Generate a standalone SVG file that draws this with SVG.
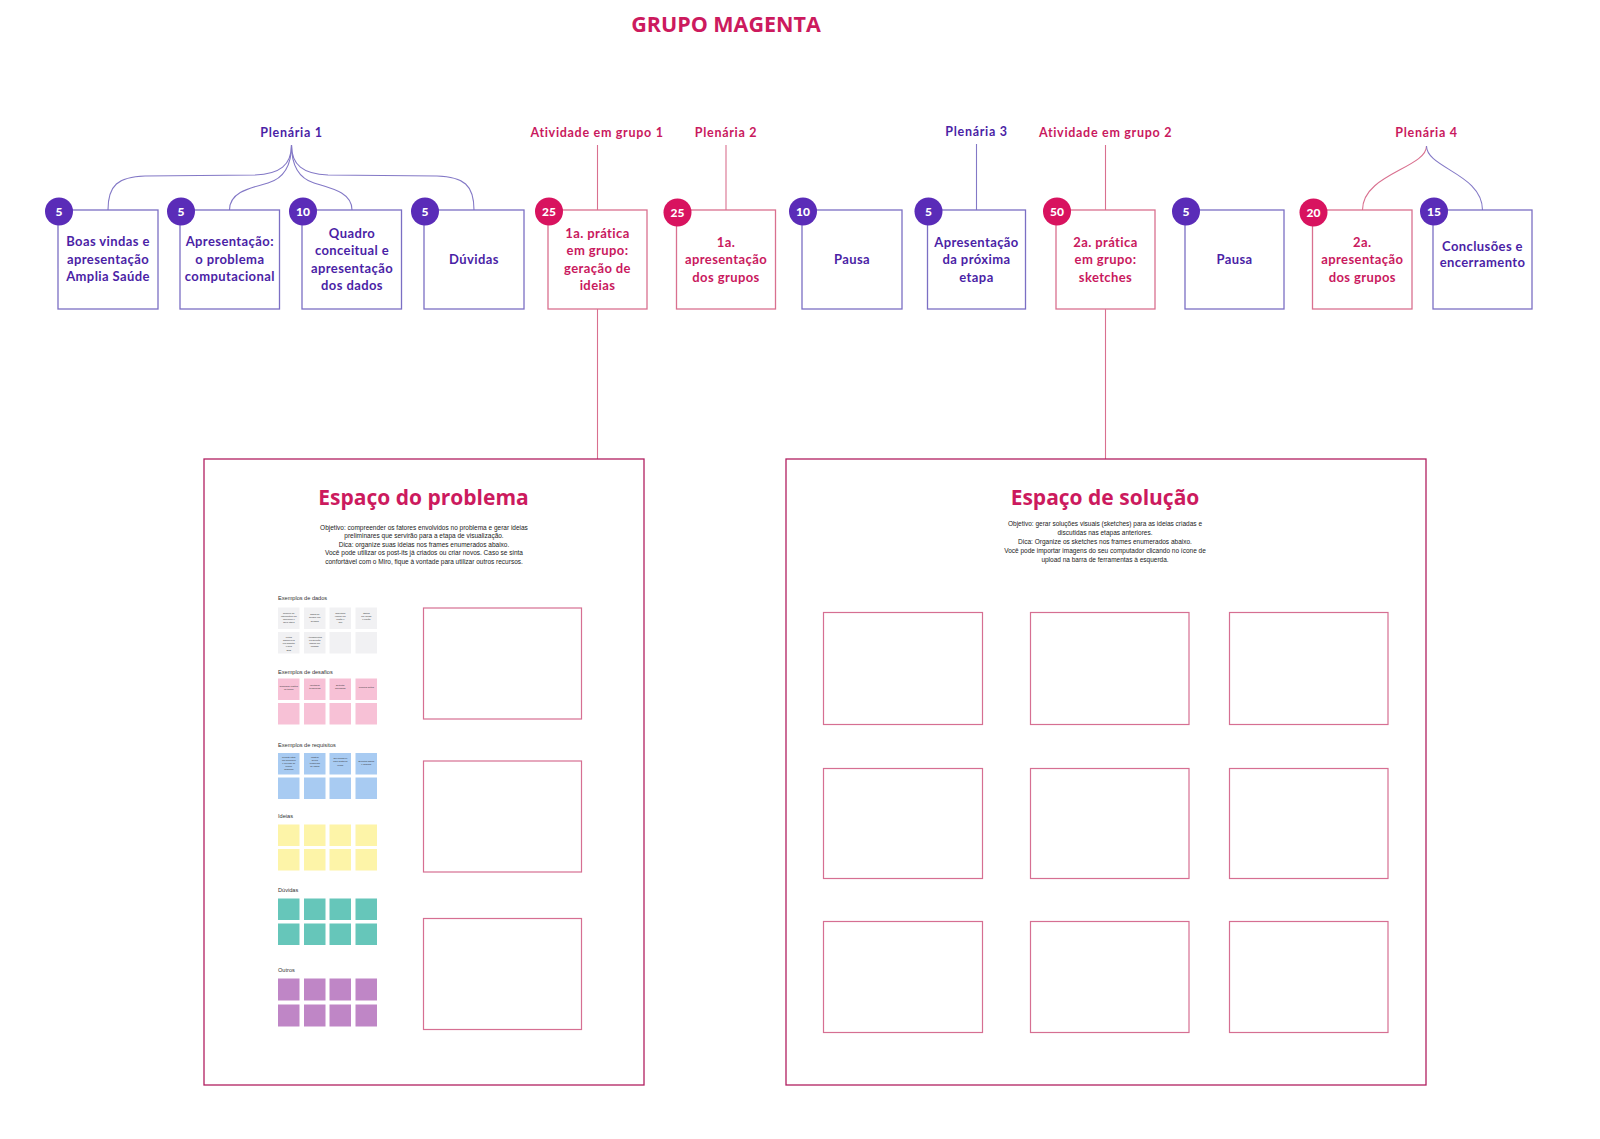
<svg xmlns="http://www.w3.org/2000/svg" width="1600" height="1139" viewBox="0 0 1600 1139">
<style>
.bp{fill:#fff;stroke:#7b6fc4;stroke-width:1.3}
.bm{fill:#fff;stroke:#d9708f;stroke-width:1.3}
.cp{fill:#5a2cb8}
.cm{fill:#d8135f}
.num{font-family:Lato,"Open Sans",sans-serif;font-weight:900;font-size:12px;fill:#fff;text-anchor:middle}
.tp{font-family:Lato,"Open Sans",sans-serif;font-weight:700;font-size:13px;fill:#4b1fa6;text-anchor:middle;letter-spacing:0.4px}
.tm{font-family:Lato,"Open Sans",sans-serif;font-weight:700;font-size:13px;fill:#c9195e;text-anchor:middle;letter-spacing:0.4px}
.lp{font-family:Lato,"Open Sans",sans-serif;font-weight:700;font-size:12.5px;fill:#4b1fa6;text-anchor:middle;letter-spacing:0.7px}
.lm{font-family:Lato,"Open Sans",sans-serif;font-weight:700;font-size:12.5px;fill:#c9195e;text-anchor:middle;letter-spacing:0.7px}
.cnp{fill:none;stroke:#8378c6;stroke-width:1.1}
.cnm{fill:none;stroke:#d9708f;stroke-width:1.1}
.frame{fill:#fff;stroke:#b11f60;stroke-width:1.3}
.inner{fill:#fff;stroke:#d66f92;stroke-width:1.2}
.ftitle{font-family:"Open Sans",sans-serif;font-weight:700;font-size:21px;fill:#cc1a5e;text-anchor:middle}
.desc{font-family:"Liberation Sans",Arial,sans-serif;font-size:6.5px;fill:#222;text-anchor:middle}
.slabel{font-family:"Liberation Sans",Arial,sans-serif;font-size:5.6px;fill:#333}
.tiny{font-family:"Liberation Sans",Arial,sans-serif;font-size:2.3px;fill:#333;text-anchor:middle}
.ng{fill:#f1f1f3}
.npk{fill:#f7c1d6}
.nbl{fill:#a8cbf2}
.nye{fill:#fdf4a8}
.nte{fill:#66c6ba}
.npu{fill:#bf86c6}
</style>
<rect width="1600" height="1139" fill="#fff"/>

<text x="726" y="31.5" font-family="'Open Sans',sans-serif" font-weight="700" font-size="21.5" fill="#cc1a5e" text-anchor="middle">GRUPO MAGENTA</text>

<g id="phase-labels">
<text class="lp" x="291.5" y="137">Plenária 1</text>
<text class="lm" x="597" y="137">Atividade em grupo 1</text>
<text class="lm" x="726" y="137">Plenária 2</text>
<text class="lp" x="976.5" y="136">Plenária 3</text>
<text class="lm" x="1105.5" y="137">Atividade em grupo 2</text>
<text class="lm" x="1426.5" y="137">Plenária 4</text>
</g>

<g id="connectors">
<path class="cnp" d="M108,210 C108,185 118,177 145,176 L255,175 C280,174 291.5,165 291.5,145"/>
<path class="cnp" d="M229.5,210 C229.5,192 250,188 268,183 C285,178 291.5,165 291.5,145"/>
<path class="cnp" d="M352,210 C352,192 330,188 314,183 C298,178 291.5,165 291.5,145"/>
<path class="cnp" d="M474,210 C474,185 464,177 437,176 L328,175 C303,174 291.5,165 291.5,145"/>
<path class="cnm" d="M597.5,145 V210"/>
<path class="cnm" d="M597.5,309 V459"/>
<path class="cnm" d="M726,145 V210"/>
<path class="cnp" d="M976.5,144 V210"/>
<path class="cnm" d="M1105.5,145 V210"/>
<path class="cnm" d="M1105.5,309 V459"/>
<path class="cnm" d="M1426.5,146 C1426.5,168 1362.5,174 1362.5,210"/>
<path class="cnp" d="M1426.5,146 C1426.5,168 1482.5,174 1482.5,210"/>
</g>

<g id="n1"><rect class="bp" x="58" y="210" width="100" height="99"/><circle class="cp" cx="59" cy="211.5" r="14"/><text class="num" x="59" y="215.8">5</text>
<text class="tp" x="108" y="246">Boas vindas e</text><text class="tp" x="108" y="263.5">apresentação</text><text class="tp" x="108" y="281">Amplia Saúde</text></g>

<g id="n2"><rect class="bp" x="180" y="210" width="99.5" height="99"/><circle class="cp" cx="181" cy="211.5" r="14"/><text class="num" x="181" y="215.8">5</text>
<text class="tp" x="229.8" y="246">Apresentação:</text><text class="tp" x="229.8" y="263.5">o problema</text><text class="tp" x="229.8" y="281">computacional</text></g>

<g id="n3"><rect class="bp" x="302" y="210" width="99.5" height="99"/><circle class="cp" cx="303" cy="211.5" r="14"/><text class="num" x="303" y="215.8">10</text>
<text class="tp" x="352" y="237.8">Quadro</text><text class="tp" x="352" y="255.3">conceitual e</text><text class="tp" x="352" y="272.8">apresentação</text><text class="tp" x="352" y="290.3">dos dados</text></g>

<g id="n4"><rect class="bp" x="424" y="210" width="100" height="99"/><circle class="cp" cx="425" cy="211.5" r="14"/><text class="num" x="425" y="215.8">5</text>
<text class="tp" x="474" y="264">Dúvidas</text></g>

<g id="n5"><rect class="bm" x="548" y="210" width="99" height="99"/><circle class="cm" cx="549" cy="211.5" r="14"/><text class="num" x="549" y="215.8">25</text>
<text class="tm" x="597.5" y="237.8">1a. prática</text><text class="tm" x="597.5" y="255.3">em grupo:</text><text class="tm" x="597.5" y="272.8">geração de</text><text class="tm" x="597.5" y="290.3">ideias</text></g>

<g id="n6"><rect class="bm" x="676.5" y="210" width="99" height="99"/><circle class="cm" cx="677.5" cy="212.5" r="14"/><text class="num" x="677.5" y="216.8">25</text>
<text class="tm" x="726" y="246.5">1a.</text><text class="tm" x="726" y="264">apresentação</text><text class="tm" x="726" y="281.5">dos grupos</text></g>

<g id="n7"><rect class="bp" x="802" y="210" width="100" height="99"/><circle class="cp" cx="803" cy="211.5" r="14"/><text class="num" x="803" y="215.8">10</text>
<text class="tp" x="852" y="264">Pausa</text></g>

<g id="n8"><rect class="bp" x="927.5" y="210" width="98" height="99"/><circle class="cp" cx="928.5" cy="211.5" r="14"/><text class="num" x="928.5" y="215.8">5</text>
<text class="tp" x="976.5" y="246.5" font-weight="600">Apresentação</text><text class="tp" x="976.5" y="264" font-weight="600">da próxima</text><text class="tp" x="976.5" y="281.5" font-weight="600">etapa</text></g>

<g id="n9"><rect class="bm" x="1056" y="210" width="99" height="99"/><circle class="cm" cx="1057" cy="211.5" r="14"/><text class="num" x="1057" y="215.8">50</text>
<text class="tm" x="1105.5" y="246.5">2a. prática</text><text class="tm" x="1105.5" y="264">em grupo:</text><text class="tm" x="1105.5" y="281.5">sketches</text></g>

<g id="n10"><rect class="bp" x="1185" y="210" width="99" height="99"/><circle class="cp" cx="1186" cy="211.5" r="14"/><text class="num" x="1186" y="215.8">5</text>
<text class="tp" x="1234.5" y="264">Pausa</text></g>

<g id="n11"><rect class="bm" x="1312.5" y="210" width="99.5" height="99"/><circle class="cm" cx="1313.5" cy="212.5" r="14"/><text class="num" x="1313.5" y="216.8">20</text>
<text class="tm" x="1362.3" y="246.5">2a.</text><text class="tm" x="1362.3" y="264">apresentação</text><text class="tm" x="1362.3" y="281.5">dos grupos</text></g>

<g id="n12"><rect class="bp" x="1433" y="210" width="99" height="99"/><circle class="cp" cx="1434" cy="211.5" r="14"/><text class="num" x="1434" y="215.8">15</text>
<text class="tp" x="1482.5" y="250.5">Conclusões e</text><text class="tp" x="1482.5" y="267">encerramento</text></g>

<g id="espaco-problema">
<rect class="frame" x="204" y="459" width="440" height="626"/>
<text class="ftitle" x="423.5" y="505">Espaço do problema</text>
<text class="desc" x="424" y="529.5">Objetivo: compreender os fatores envolvidos no problema e gerar ideias</text>
<text class="desc" x="424" y="538">preliminares que servirão para a etapa de visualização.</text>
<text class="desc" x="424" y="546.5">Dica: organize suas ideias nos frames enumerados abaixo.</text>
<text class="desc" x="424" y="555">Você pode utilizar os post-its já criados ou criar novos. Caso se sinta</text>
<text class="desc" x="424" y="563.5">confortável com o Miro, fique à vontade para utilizar outros recursos.</text>

<rect class="inner" x="423.5" y="608" width="158" height="111"/>
<rect class="inner" x="423.5" y="761" width="158" height="111"/>
<rect class="inner" x="423.5" y="918.5" width="158" height="111"/>

<g id="exemplos-dados">
<text class="slabel" x="278" y="600">Exemplos de dados</text>
<rect class="ng" x="278" y="607.5" width="21.5" height="21.5"/><rect class="ng" x="304" y="607.5" width="21.5" height="21.5"/><rect class="ng" x="329.5" y="607.5" width="21.5" height="21.5"/><rect class="ng" x="355.5" y="607.5" width="21.5" height="21.5"/>
<rect class="ng" x="278" y="632" width="21.5" height="21.5"/><rect class="ng" x="304" y="632" width="21.5" height="21.5"/><rect class="ng" x="329.5" y="632" width="21.5" height="21.5"/><rect class="ng" x="355.5" y="632" width="21.5" height="21.5"/>
<text class="tiny" x="288.8" y="614">Número de</text><text class="tiny" x="288.8" y="617">internações por</text><text class="tiny" x="288.8" y="620">município e</text><text class="tiny" x="288.8" y="623">faixa etária</text>
<text class="tiny" x="314.8" y="615">Casos de</text><text class="tiny" x="314.8" y="618">dengue por</text><text class="tiny" x="314.8" y="621.5">semana</text>
<text class="tiny" x="340.3" y="614">Cobertura</text><text class="tiny" x="340.3" y="617">vacinal por</text><text class="tiny" x="340.3" y="620">região e</text><text class="tiny" x="340.3" y="623">ano</text>
<text class="tiny" x="366.3" y="614">Óbitos</text><text class="tiny" x="366.3" y="617">por causa</text><text class="tiny" x="366.3" y="620">e região</text>
<text class="tiny" x="288.8" y="638">Leitos</text><text class="tiny" x="288.8" y="641">disponíveis</text><text class="tiny" x="288.8" y="644">por hospital</text><text class="tiny" x="288.8" y="647">e mês</text><text class="tiny" x="288.8" y="650.5">SUS</text>
<text class="tiny" x="314.8" y="638">Atendimentos</text><text class="tiny" x="314.8" y="641">na atenção</text><text class="tiny" x="314.8" y="644">básica por</text><text class="tiny" x="314.8" y="647">unidade</text>
</g>

<g id="exemplos-desafios">
<text class="slabel" x="278" y="674">Exemplos de desafios</text>
<rect class="npk" x="278" y="678.5" width="21.5" height="21.5"/><rect class="npk" x="304" y="678.5" width="21.5" height="21.5"/><rect class="npk" x="329.5" y="678.5" width="21.5" height="21.5"/><rect class="npk" x="355.5" y="678.5" width="21.5" height="21.5"/>
<rect class="npk" x="278" y="703" width="21.5" height="21.5"/><rect class="npk" x="304" y="703" width="21.5" height="21.5"/><rect class="npk" x="329.5" y="703" width="21.5" height="21.5"/><rect class="npk" x="355.5" y="703" width="21.5" height="21.5"/>
<text class="tiny" x="288.8" y="687">Comparar regiões</text><text class="tiny" x="288.8" y="690">no tempo</text>
<text class="tiny" x="314.8" y="686">Identificar</text><text class="tiny" x="314.8" y="689">tendências</text>
<text class="tiny" x="340.3" y="686">Detectar</text><text class="tiny" x="340.3" y="689">anomalias</text>
<text class="tiny" x="366.3" y="688">Priorizar ações</text>
</g>

<g id="exemplos-requisitos">
<text class="slabel" x="278" y="747">Exemplos de requisitos</text>
<rect class="nbl" x="278" y="753" width="21.5" height="21.5"/><rect class="nbl" x="304" y="753" width="21.5" height="21.5"/><rect class="nbl" x="329.5" y="753" width="21.5" height="21.5"/><rect class="nbl" x="355.5" y="753" width="21.5" height="21.5"/>
<rect class="nbl" x="278" y="777.5" width="21.5" height="21.5"/><rect class="nbl" x="304" y="777.5" width="21.5" height="21.5"/><rect class="nbl" x="329.5" y="777.5" width="21.5" height="21.5"/><rect class="nbl" x="355.5" y="777.5" width="21.5" height="21.5"/>
<text class="tiny" x="288.8" y="758">Permitir filtrar</text><text class="tiny" x="288.8" y="761">por município</text><text class="tiny" x="288.8" y="764">e período de</text><text class="tiny" x="288.8" y="767">tempo</text><text class="tiny" x="288.8" y="770">desejado</text>
<text class="tiny" x="314.8" y="758">Mostrar</text><text class="tiny" x="314.8" y="761">séries</text><text class="tiny" x="314.8" y="764">temporais</text><text class="tiny" x="314.8" y="767">de casos</text>
<text class="tiny" x="340.3" y="759">Ser acessível</text><text class="tiny" x="340.3" y="762">para gestores</text><text class="tiny" x="340.3" y="765.5">locais</text>
<text class="tiny" x="366.3" y="762">Exportar dados</text><text class="tiny" x="366.3" y="765">e gráficos</text>
</g>

<g id="ideias">
<text class="slabel" x="278" y="818">Ideias</text>
<rect class="nye" x="278" y="824.5" width="21.5" height="21.5"/><rect class="nye" x="304" y="824.5" width="21.5" height="21.5"/><rect class="nye" x="329.5" y="824.5" width="21.5" height="21.5"/><rect class="nye" x="355.5" y="824.5" width="21.5" height="21.5"/>
<rect class="nye" x="278" y="849" width="21.5" height="21.5"/><rect class="nye" x="304" y="849" width="21.5" height="21.5"/><rect class="nye" x="329.5" y="849" width="21.5" height="21.5"/><rect class="nye" x="355.5" y="849" width="21.5" height="21.5"/>
</g>

<g id="duvidas">
<text class="slabel" x="278" y="892">Dúvidas</text>
<rect class="nte" x="278" y="898.5" width="21.5" height="21.5"/><rect class="nte" x="304" y="898.5" width="21.5" height="21.5"/><rect class="nte" x="329.5" y="898.5" width="21.5" height="21.5"/><rect class="nte" x="355.5" y="898.5" width="21.5" height="21.5"/>
<rect class="nte" x="278" y="923.5" width="21.5" height="21.5"/><rect class="nte" x="304" y="923.5" width="21.5" height="21.5"/><rect class="nte" x="329.5" y="923.5" width="21.5" height="21.5"/><rect class="nte" x="355.5" y="923.5" width="21.5" height="21.5"/>
</g>

<g id="outros">
<text class="slabel" x="278" y="972">Outros</text>
<rect class="npu" x="278" y="978.5" width="21.5" height="22"/><rect class="npu" x="304" y="978.5" width="21.5" height="22"/><rect class="npu" x="329.5" y="978.5" width="21.5" height="22"/><rect class="npu" x="355.5" y="978.5" width="21.5" height="22"/>
<rect class="npu" x="278" y="1004.5" width="21.5" height="22"/><rect class="npu" x="304" y="1004.5" width="21.5" height="22"/><rect class="npu" x="329.5" y="1004.5" width="21.5" height="22"/><rect class="npu" x="355.5" y="1004.5" width="21.5" height="22"/>
</g>
</g>

<g id="espaco-solucao">
<rect class="frame" x="786" y="459" width="640" height="626"/>
<text class="ftitle" x="1105" y="505">Espaço de solução</text>
<text class="desc" x="1105" y="525.7">Objetivo: gerar soluções visuais (sketches) para as ideias criadas e</text>
<text class="desc" x="1105" y="534.7">discutidas nas etapas anteriores.</text>
<text class="desc" x="1105" y="543.7">Dica: Organize os sketches nos frames enumerados abaixo.</text>
<text class="desc" x="1105" y="552.7">Você pode importar imagens do seu computador clicando no ícone de</text>
<text class="desc" x="1105" y="561.7">upload na barra de ferramentas à esquerda.</text>

<rect class="inner" x="823.5" y="612.5" width="159" height="112"/>
<rect class="inner" x="1030.5" y="612.5" width="158.5" height="112"/>
<rect class="inner" x="1229.5" y="612.5" width="158.5" height="112"/>
<rect class="inner" x="823.5" y="768.5" width="159" height="110"/>
<rect class="inner" x="1030.5" y="768.5" width="158.5" height="110"/>
<rect class="inner" x="1229.5" y="768.5" width="158.5" height="110"/>
<rect class="inner" x="823.5" y="921.5" width="159" height="111"/>
<rect class="inner" x="1030.5" y="921.5" width="158.5" height="111"/>
<rect class="inner" x="1229.5" y="921.5" width="158.5" height="111"/>
</g>
</svg>
